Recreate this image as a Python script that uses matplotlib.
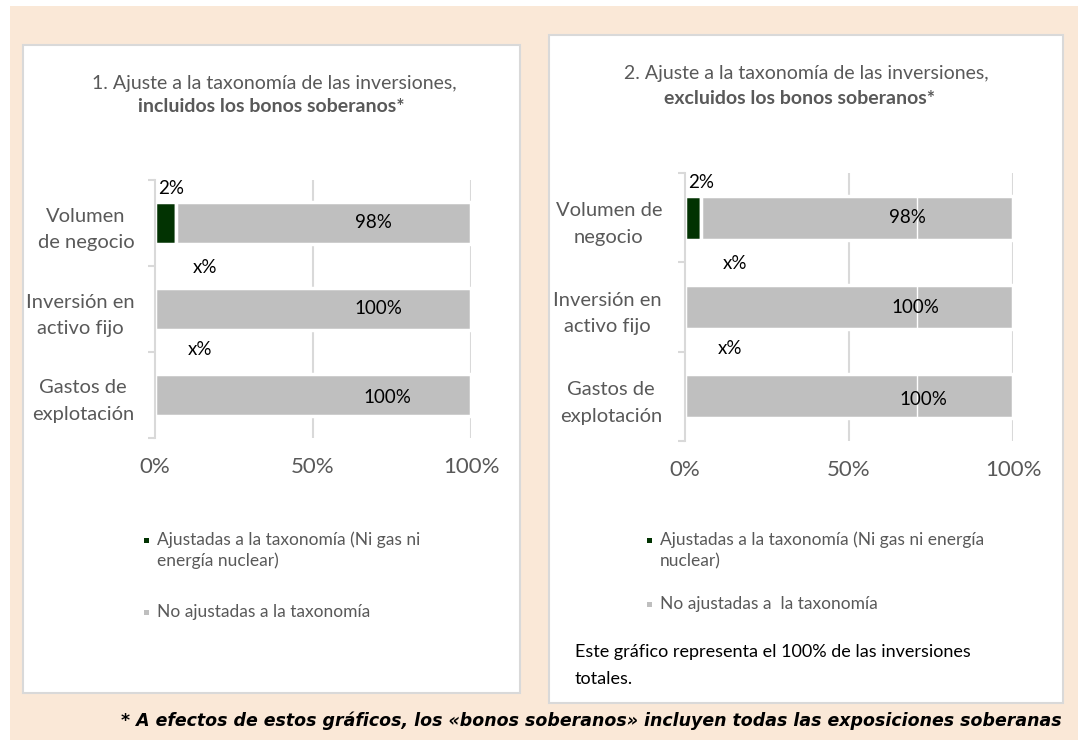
#!/usr/bin/env python3
"""Taxonomy alignment bar charts (two panels)."""

import matplotlib
matplotlib.use("Agg")
import matplotlib.pyplot as plt
from matplotlib.patches import Rectangle

W, H = 1078, 740

CATEGORIES_1 = ["Volumen\nde negocio", "Inversión en\nactivo fijo", "Gastos de\nexplotación"]
CATEGORIES_2 = ["Volumen de\nnegocio", "Inversión en\nactivo fijo", "Gastos de\nexplotación"]
ALIGNED_1 = [6.6, 0, 0]
NOT_ALIGNED_1 = [93.4, 100, 100]
ALIGNED_2 = [4.9, 0, 0]
NOT_ALIGNED_2 = [95.1, 100, 100]
ALIGNED_LABELS = ["2%", "x%", "x%"]
NOT_ALIGNED_LABELS = ["98%", "100%", "100%"]
X_TICKS = [0, 50, 100]
X_TICK_LABELS = ["0%", "50%", "100%"]
LEGEND_LABELS_1 = ["Ajustadas a la taxonomía (Ni gas ni\nenergía nuclear)", "No ajustadas a la taxonomía"]
LEGEND_LABELS_2 = ["Ajustadas a la taxonomía (Ni gas ni energía\nnuclear)", "No ajustadas a  la taxonomía"]
NOTE = "Este gráfico representa el 100% de las inversiones\ntotales."
FOOTNOTE = ("* A efectos de estos gráficos, los «bonos soberanos» incluyen "
            "todas las exposiciones soberanas")

GREEN = "#023302"
GREY = "#BFBFBF"
TEXT_GREY = "#595959"
LINE_GREY = "#D9D9D9"
PEACH = "#FAE8D7"

plt.rcParams["font.family"] = ["Lato", "DejaVu Sans"]


def fx(x):
    return x / W


def fy(y):
    return 1 - y / H


def fig_rect(fig, x0, y0, x1, y1, **kw):
    fig.add_artist(Rectangle((fx(x0), fy(y1)), (x1 - x0) / W, (y1 - y0) / H,
                             transform=fig.transFigure, **kw))


def draw_panel(fig, box, categories, aligned, not_aligned, grey_label_pos, green_label_pos,
               label_pad, artifact_x=None):
    x0, y0, x1, y1 = box
    ax = fig.add_axes([fx(x0), fy(y1), (x1 - x0) / W, (y1 - y0) / H])
    ax.set_facecolor("none")
    pos = list(range(len(categories)))

    for x in (50, 100):
        ax.axvline(x, color=LINE_GREY, linewidth=1.5, zorder=0)

    ax.barh(pos, aligned, height=0.49, color=GREEN, edgecolor="white", linewidth=2.5, zorder=1)
    ax.barh(pos, not_aligned, left=aligned, height=0.49, color=GREY, edgecolor="white",
            linewidth=2.5, zorder=1)
    if artifact_x is not None:
        ax.axvline(artifact_x, color="white", linewidth=1, zorder=2)

    for lab, (gx, gy) in zip(NOT_ALIGNED_LABELS, grey_label_pos):
        ax.text(gx, gy, lab, ha="center", va="center", fontsize=13.5, color="black", zorder=3)
    for lab, (gx, gy, ha) in zip(ALIGNED_LABELS, green_label_pos):
        ax.text(gx, gy, lab, ha=ha, va="center", fontsize=13.5, color="black", zorder=3)

    ax.set_xlim(0, 100)
    ax.set_ylim(len(categories) - 0.5, -0.5)
    ax.set_xticks(X_TICKS)
    ax.set_xticklabels(X_TICK_LABELS, fontsize=16, color=TEXT_GREY)
    ax.set_yticks(pos)
    ax.set_yticklabels(categories, fontsize=14.5, color=TEXT_GREY, multialignment="center",
                       linespacing=1.7)
    ax.set_yticks([p - 0.5 for p in pos] + [pos[-1] + 0.5], minor=True)
    ax.tick_params(axis="x", length=0, pad=14)
    ax.tick_params(axis="y", which="major", length=0, pad=label_pad)
    ax.tick_params(axis="y", which="minor", length=5, color=LINE_GREY, width=1.5)
    for side in ("top", "right", "bottom"):
        ax.spines[side].set_visible(False)
    ax.spines["left"].set_color(LINE_GREY)
    ax.spines["left"].set_linewidth(1.5)
    return ax


def draw_legend(fig, x, y_first, y_second, labels):
    for color, label, y in ((GREEN, labels[0], y_first), (GREY, labels[1], y_second)):
        fig_rect(fig, x - 13, y - 2.5, x - 8, y + 2.5, facecolor=color, edgecolor="none")
        for j, line in enumerate(label.split("\n")):
            fig.text(fx(x), fy(y + 21 * j), line, ha="left", va="center", fontsize=12.5,
                     color=TEXT_GREY)


fig = plt.figure(figsize=(W / 100, H / 100), dpi=100)
fig.patch.set_facecolor("white")

fig_rect(fig, 10, 6, 1078, 740, facecolor=PEACH, edgecolor="none", zorder=-3)
fig_rect(fig, 23, 45, 520, 693, facecolor="white", edgecolor=LINE_GREY, linewidth=1.5, zorder=-2)
fig_rect(fig, 549, 35, 1063, 703, facecolor="white", edgecolor=LINE_GREY, linewidth=1.5, zorder=-2)

# panel 1: incluidos los bonos soberanos
fig.text(fx(274), fy(83), "1. Ajuste a la taxonomía de las inversiones,", ha="center",
         va="center", fontsize=14, color=TEXT_GREY)
fig.text(fx(271), fy(107), "incluidos los bonos soberanos*", ha="center", va="center",
         fontsize=14, color=TEXT_GREY, fontweight="bold")
draw_panel(fig, (155, 180, 471, 438), CATEGORIES_1, ALIGNED_1, NOT_ALIGNED_1,
           [(69, 0), (70.6, 1), (73.4, 2.03)],
           [(1, -0.4, "left"), (15.8, 0.52, "center"), (14.2, 1.47, "center")],
           label_pad=15)
draw_legend(fig, 157, 540, 612, LEGEND_LABELS_1)

# panel 2: excluidos los bonos soberanos
fig.text(fx(806), fy(73), "2. Ajuste a la taxonomía de las inversiones,", ha="center",
         va="center", fontsize=14, color=TEXT_GREY)
fig.text(fx(800), fy(98), "excluidos los bonos soberanos*", ha="center", va="center",
         fontsize=14, color=TEXT_GREY, fontweight="bold")
draw_panel(fig, (685, 173, 1013, 441), CATEGORIES_2, ALIGNED_2, NOT_ALIGNED_2,
           [(67.7, 0), (70.1, 1), (72.6, 2.04)],
           [(0.9, -0.39, "left"), (15.2, 0.51, "center"), (13.7, 1.46, "center")],
           label_pad=16.5, artifact_x=70.7)
draw_legend(fig, 660, 540, 604, LEGEND_LABELS_2)
for j, line in enumerate(NOTE.split("\n")):
    fig.text(fx(575), fy(652 + 27 * j), line, ha="left", va="center", fontsize=13,
             color="black")

fig.text(fx(1062), fy(721), FOOTNOTE, ha="right", va="center", fontsize=12.5,
         family="DejaVu Sans", color="black", fontweight="bold", fontstyle="italic")

fig.savefig("out.png", dpi=100, facecolor=fig.get_facecolor())
